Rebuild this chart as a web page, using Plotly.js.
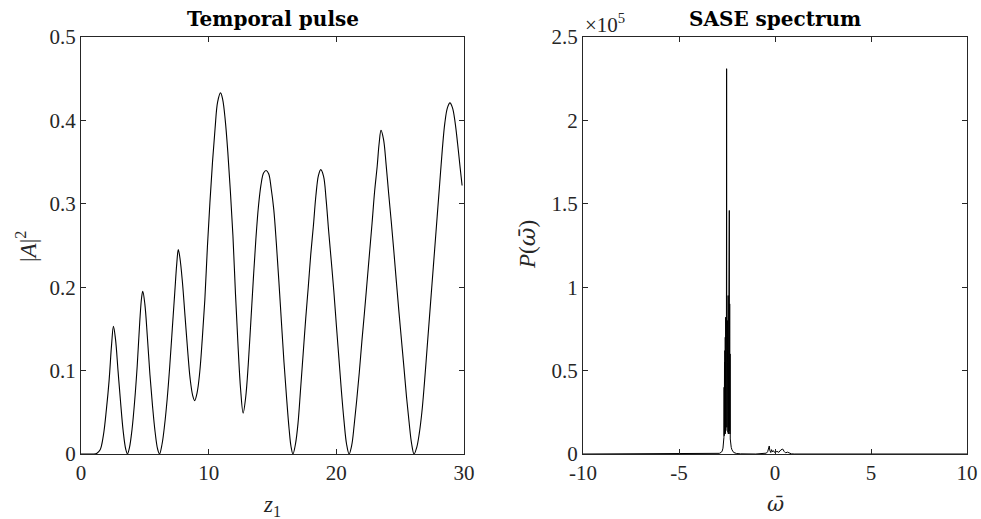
<!DOCTYPE html>
<html>
<head>
<meta charset="utf-8">
<script src="https://cdn.plot.ly/plotly-3.0.1.min.js"></script>
<style>html,body{margin:0;padding:0;background:#fff;}#chart{width:981px;height:519px;}</style>
</head>
<body>
<div id="chart"></div>
<script>
// ---- Temporal pulse data ----
var z1 = [0, 0.5, 1.0, 1.25, 1.5, 1.75, 2.0, 2.2, 2.4, 2.54,
  2.7, 2.9, 3.1, 3.3, 3.5, 3.64,
  3.8, 4.0, 4.2, 4.4, 4.6, 4.75, 4.84,
  5.0, 5.2, 5.4, 5.6, 5.8, 6.0, 6.15,
  6.35, 6.55, 6.75, 6.95, 7.15, 7.35, 7.5, 7.62,
  7.75, 7.95, 8.15, 8.35, 8.55, 8.75, 8.9,
  9.1, 9.3, 9.5, 9.7, 9.9, 10.1, 10.3, 10.5, 10.7, 10.93,
  11.1, 11.3, 11.5, 11.7, 11.9, 12.1, 12.3, 12.5, 12.7,
  12.9, 13.1, 13.3, 13.5, 13.7, 13.9, 14.1, 14.3, 14.5,
  14.7, 14.9, 15.1, 15.3, 15.5, 15.7, 15.9, 16.1, 16.3, 16.45, 16.6,
  16.8, 17.0, 17.2, 17.4, 17.6, 17.8, 18.0, 18.2, 18.4, 18.6, 18.78,
  19.0, 19.2, 19.4, 19.6, 19.8, 20.0, 20.2, 20.4, 20.6, 20.8, 21.0,
  21.2, 21.4, 21.6, 21.8, 22.0, 22.2, 22.4, 22.6, 22.8, 23.0, 23.2, 23.35, 23.5,
  23.7, 23.9, 24.1, 24.3, 24.5, 24.7, 24.9, 25.1, 25.3, 25.5, 25.7, 25.9, 26.09,
  26.3, 26.5, 26.7, 26.9, 27.1, 27.3, 27.5, 27.7, 27.9, 28.1, 28.3, 28.5, 28.7, 28.9,
  29.1, 29.3, 29.5, 29.7, 29.85];
var A2 = [0, 0, 0, 0.001, 0.005, 0.022, 0.055, 0.088, 0.132, 0.153,
  0.138, 0.100, 0.062, 0.028, 0.006, 0,
  0.008, 0.030, 0.063, 0.105, 0.158, 0.188, 0.195,
  0.180, 0.140, 0.095, 0.058, 0.027, 0.006, 0,
  0.012, 0.035, 0.066, 0.105, 0.150, 0.195, 0.228, 0.245,
  0.235, 0.205, 0.165, 0.125, 0.090, 0.070, 0.064,
  0.074, 0.098, 0.138, 0.185, 0.248, 0.302, 0.350, 0.390, 0.422, 0.433,
  0.425, 0.400, 0.362, 0.315, 0.262, 0.192, 0.130, 0.078, 0.049,
  0.068, 0.107, 0.158, 0.210, 0.258, 0.297, 0.323, 0.337, 0.340,
  0.336, 0.318, 0.293, 0.253, 0.207, 0.158, 0.110, 0.068, 0.030, 0.009, 0,
  0.012, 0.037, 0.078, 0.120, 0.162, 0.200, 0.240, 0.273, 0.310, 0.334, 0.341,
  0.333, 0.305, 0.267, 0.232, 0.196, 0.155, 0.115, 0.075, 0.040, 0.012, 0,
  0.010, 0.035, 0.065, 0.098, 0.135, 0.169, 0.205, 0.241, 0.277, 0.315, 0.345, 0.372, 0.388,
  0.377, 0.347, 0.312, 0.279, 0.244, 0.207, 0.171, 0.137, 0.103, 0.068, 0.038, 0.012, 0,
  0.008, 0.025, 0.050, 0.085, 0.125, 0.165, 0.205, 0.245, 0.285, 0.325, 0.365, 0.397, 0.415, 0.421,
  0.415, 0.398, 0.372, 0.343, 0.322];

// ---- SASE spectrum data ----
var omega = [-10, -3.2, -3.0, -2.9, -2.8, -2.75, -2.71, -2.68, -2.67,
  -2.66, -2.65, -2.64, -2.63, -2.62, -2.61, -2.60, -2.59, -2.58, -2.57, -2.56, -2.55, -2.54, -2.53, -2.52,
  -2.51, -2.50, -2.49, -2.48, -2.47, -2.46,
  -2.45, -2.44, -2.43, -2.42, -2.41, -2.40, -2.39, -2.38, -2.37, -2.36, -2.35, -2.34, -2.33,
  -2.31, -2.28, -2.24, -2.2, -2.15, -2.0, -1.8, -1.0,
  -0.6, -0.45, -0.38, -0.33, -0.30, -0.27, -0.22, -0.18, -0.13, -0.08, 0.0, 0.1, 0.2, 0.3, 0.4, 0.48,
  0.55, 0.65, 0.75, 0.85, 1.0, 10];
var P = [0, 0, 150, 400, 1000, 1800, 3500, 6000, 8000,
  10000, 40000, 11000, 55000, 12000, 62000, 12000, 70000, 13000, 82000, 14000, 72000, 15000, 75000, 231000,
  16000, 70000, 56000, 80000, 55000, 78000,
  13000, 95000, 12000, 105000, 123000, 13000, 100000, 146000, 14000, 90000, 12000, 60000, 9000,
  6000, 4000, 2500, 1500, 900, 300, 100, 0,
  100, 500, 1500, 4000, 4800, 2200, 900, 2600, 1200, 2000, 700, 1600, 1000, 2400, 3000, 1500,
  700, 1100, 400, 100, 0, 0];

// ---- tick labels ----
var xTicks1 = [0, 10, 20, 30];
var xTickText1 = ['0', '10', '20', '30'];
var yTicks1 = [0, 0.1, 0.2, 0.3, 0.4, 0.5];
var yTickText1 = ['0', '0.1', '0.2', '0.3', '0.4', '0.5'];
var xTicks2 = [-10, -5, 0, 5, 10];
var xTickText2 = ['-10', '-5', '0', '5', '10'];
var yTicks2 = [0, 50000, 100000, 150000, 200000, 250000];
var yTickText2 = ['0', '0.5', '1', '1.5', '2', '2.5'];

var W = 981, H = 519;
function px(x) { return x / W; }
function py(y) { return 1 - y / H; }

var axColor = '#262626';
var serif = 'Liberation Serif';
var tickFont = {family: serif, size: 21, color: axColor};
function axis(extra) {
  var a = {showline: true, linecolor: axColor, linewidth: 1, mirror: 'ticks', ticks: 'inside',
    ticklen: 5, tickwidth: 1, tickcolor: axColor, showgrid: false, zeroline: false,
    tickfont: tickFont, tickmode: 'array', fixedrange: true};
  for (var k in extra) a[k] = extra[k];
  return a;
}

var traces = [
  {x: z1, y: A2, type: 'scatter', mode: 'lines', xaxis: 'x', yaxis: 'y',
   line: {color: '#000', width: 1.1, shape: 'spline', smoothing: 1}, hoverinfo: 'none'},
  {x: omega, y: P, type: 'scatter', mode: 'lines', xaxis: 'x2', yaxis: 'y2',
   line: {color: '#000', width: 1}, hoverinfo: 'none'}
];

var omegaBar = '<span style="font-family:DejaVu Serif"><i>ω̄</i></span>';

var layout = {
  width: W, height: H, showlegend: false,
  margin: {l: 0, r: 0, t: 0, b: 0},
  paper_bgcolor: '#fff', plot_bgcolor: '#fff',
  xaxis: axis({domain: [px(81), px(464)], range: [0, 30], tickvals: xTicks1, ticktext: xTickText1, anchor: 'y'}),
  yaxis: axis({domain: [py(454), py(37)], range: [0, 0.5], tickvals: yTicks1, ticktext: yTickText1, anchor: 'x'}),
  xaxis2: axis({domain: [px(583), px(967)], range: [-10, 10], tickvals: xTicks2, ticktext: xTickText2, anchor: 'y2'}),
  yaxis2: axis({domain: [py(454), py(37)], range: [0, 250000], tickvals: yTicks2, ticktext: yTickText2, anchor: 'x2'}),
  annotations: [
    {text: '<b>Temporal pulse</b>', x: px(272.5), y: py(19), xref: 'paper', yref: 'paper', showarrow: false,
     xanchor: 'center', yanchor: 'middle', font: {family: 'DejaVu Serif', size: 20, color: '#000'}},
    {text: '<b>SASE spectrum</b>', x: px(775), y: py(19), xref: 'paper', yref: 'paper', showarrow: false,
     xanchor: 'center', yanchor: 'middle', font: {family: 'DejaVu Serif', size: 20, color: '#000'}},
    {text: '×10<sup>5</sup>', x: px(583), y: py(24), xref: 'paper', yref: 'paper', showarrow: false,
     xanchor: 'left', yanchor: 'middle', font: {family: serif, size: 21, color: axColor}},
    {text: '<i>z</i><sub>1</sub>', x: px(272), y: py(506), xref: 'paper', yref: 'paper', showarrow: false,
     xanchor: 'center', yanchor: 'middle', font: {family: serif, size: 23, color: axColor}},
    {text: omegaBar, x: px(775), y: py(504), xref: 'paper', yref: 'paper', showarrow: false,
     xanchor: 'center', yanchor: 'middle', font: {family: serif, size: 21, color: axColor}},
    {text: '|<i>A</i>|<sup>2</sup>', x: px(26), y: py(247), xref: 'paper', yref: 'paper', showarrow: false,
     textangle: -90, xanchor: 'center', yanchor: 'middle', font: {family: serif, size: 23, color: axColor}},
    {text: '<i>P</i>(' + omegaBar + ')', x: px(527), y: py(245), xref: 'paper', yref: 'paper', showarrow: false,
     textangle: -90, xanchor: 'center', yanchor: 'middle', font: {family: serif, size: 23, color: axColor}}
  ]
};

Plotly.newPlot('chart', traces, layout, {staticPlot: true, displayModeBar: false});
</script>
</body>
</html>
